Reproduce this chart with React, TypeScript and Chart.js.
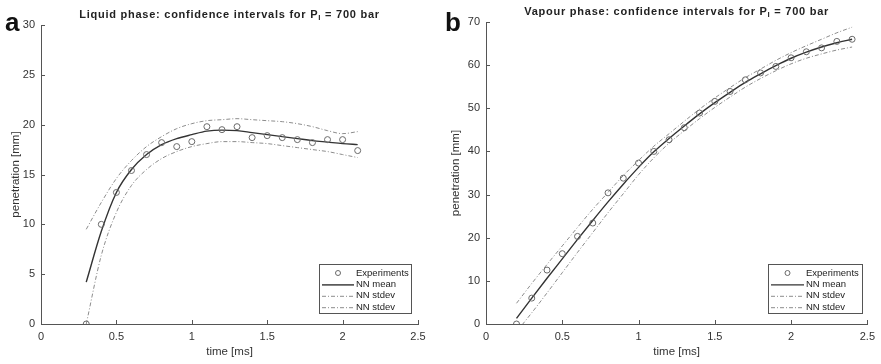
import React, { useEffect, useRef } from "react";
import { Chart, registerables } from "chart.js";

Chart.register(...registerables);

const FONT = '"Liberation Sans", Arial, Helvetica, sans-serif';

// ---- Liquid phase (panel a) ----
const liquidTimes = [0.3, 0.4, 0.5, 0.6, 0.7, 0.8, 0.9, 1.0, 1.1, 1.2, 1.3, 1.4, 1.5, 1.6, 1.7, 1.8, 1.9, 2.0, 2.1];
const liquidExperiments = [0, 10.0, 13.2, 15.4, 17.0, 18.2, 17.8, 18.3, 19.8, 19.5, 19.8, 18.7, 18.9, 18.7, 18.5, 18.2, 18.5, 18.5, 17.4];
const liquidMean = [4.2, 9.3, 13.2, 15.5, 17.0, 18.0, 18.6, 19.0, 19.35, 19.45, 19.4, 19.2, 19.0, 18.8, 18.6, 18.4, 18.25, 18.1, 18.0];
const liquidUpper = [9.5, 12.2, 14.6, 16.4, 17.8, 18.8, 19.6, 20.1, 20.4, 20.5, 20.6, 20.5, 20.4, 20.3, 20.1, 19.8, 19.4, 19.1, 19.3];
const liquidLower = [0, 6.9, 11.2, 13.9, 15.5, 16.6, 17.3, 17.8, 18.1, 18.3, 18.3, 18.2, 18.1, 17.9, 17.7, 17.5, 17.3, 17.0, 16.7];

// ---- Vapour phase (panel b) ----
const vapourTimes = [0.2, 0.3, 0.4, 0.5, 0.6, 0.7, 0.8, 0.9, 1.0, 1.1, 1.2, 1.3, 1.4, 1.5, 1.6, 1.7, 1.8, 1.9, 2.0, 2.1, 2.2, 2.3, 2.4];
const vapourExperiments = [0, 6.0, 12.5, 16.3, 20.3, 23.4, 30.4, 33.8, 37.3, 40.0, 42.7, 45.5, 48.9, 51.6, 53.9, 56.6, 58.2, 59.7, 61.7, 63.1, 64.0, 65.5, 66.0];
const vapourMean = [1.3, 6.0, 10.6, 15.1, 19.6, 24.0, 28.3, 32.4, 36.3, 39.9, 43.0, 45.9, 48.7, 51.3, 53.7, 56.0, 58.0, 59.9, 61.6, 63.0, 64.2, 65.2, 66.0];
const vapourUpper = [4.8, 9.4, 13.8, 18.1, 22.4, 26.6, 30.5, 34.4, 37.9, 41.2, 44.1, 47.0, 49.8, 52.4, 54.8, 57.1, 59.1, 61.1, 62.9, 64.5, 66.0, 67.5, 68.8];
const vapourLower = [-1.8, 2.6, 7.2, 11.9, 16.6, 21.2, 25.8, 30.2, 34.6, 38.5, 41.9, 44.8, 47.6, 50.2, 52.6, 54.9, 56.9, 58.7, 60.3, 61.6, 62.6, 63.5, 64.2];

const xTickStep = 0.5;
const xMax = 2.5;
const seriesLabels = ["Experiments", "NN mean", "NN stdev", "NN stdev"];
const xTitle = "time [ms]";
const yTitle = "penetration [mm]";

type PanelCfg = {
  letter: string;
  titlePre: string;
  titleSub: string;
  titlePost: string;
  times: number[];
  exp: number[];
  mean: number[];
  upper: number[];
  lower: number[];
  yMax: number;
  yStep: number;
  width: number;
  height: number;
  padRight: number;
  padTop: number;
  yWidth: number;
  titleY: number;
  legendBox: { x: number; y: number; w: number; h: number };
  textOffset: number;
};

const toXY = (xs: number[], ys: number[]) => xs.map((x, i) => ({ x, y: ys[i] }));

const panels: PanelCfg[] = [
  {
    letter: "a",
    titlePre: "Liquid phase: confidence intervals for P",
    titleSub: "l",
    titlePost: " = 700 bar",
    times: liquidTimes,
    exp: liquidExperiments,
    mean: liquidMean,
    upper: liquidUpper,
    lower: liquidLower,
    yMax: 30,
    yStep: 5,
    width: 440,
    height: 364,
    padRight: 22,
    padTop: 25,
    yWidth: 41,
    titleY: 15,
    legendBox: { x: 319, y: 264, w: 92, h: 49 },
    textOffset: 37,
  },
  {
    letter: "b",
    titlePre: "Vapour phase: confidence intervals for P",
    titleSub: "l",
    titlePost: " = 700 bar",
    times: vapourTimes,
    exp: vapourExperiments,
    mean: vapourMean,
    upper: vapourUpper,
    lower: vapourLower,
    yMax: 70,
    yStep: 10,
    width: 441,
    height: 364,
    padRight: 11,
    padTop: 22,
    yWidth: 46,
    titleY: 12,
    legendBox: { x: 328, y: 264, w: 94, h: 49 },
    textOffset: 38,
  },
];

function makeDecorPlugin(cfg: PanelCfg) {
  return {
    id: "decor" + cfg.letter,
    afterDraw(chart: any) {
      const ctx = chart.ctx as CanvasRenderingContext2D;
      const area = chart.chartArea;
      const xs = chart.scales.x;
      const ys = chart.scales.y;
      ctx.save();
      // inward ticks
      ctx.strokeStyle = "#555";
      ctx.lineWidth = 1;
      ctx.beginPath();
      xs.ticks.forEach((t: any) => {
        const px = Math.round(xs.getPixelForValue(t.value)) + 0.5;
        ctx.moveTo(px, area.bottom);
        ctx.lineTo(px, area.bottom - 4);
      });
      ys.ticks.forEach((t: any) => {
        const py = Math.round(ys.getPixelForValue(t.value)) + 0.5;
        ctx.moveTo(area.left, py);
        ctx.lineTo(area.left + 4, py);
      });
      ctx.stroke();

      // panel letter
      ctx.fillStyle = "#111";
      ctx.font = `bold 26px ${FONT}`;
      ctx.textAlign = "left";
      ctx.textBaseline = "alphabetic";
      ctx.fillText(cfg.letter, 5, 31);

      // title with subscript
      const cx = (area.left + area.right) / 2;
      const mainFont = `bold 11px ${FONT}`;
      const subFont = `bold 8px ${FONT}`;
      (ctx as any).letterSpacing = "0.75px";
      ctx.font = mainFont;
      const w1 = ctx.measureText(cfg.titlePre).width;
      const w3 = ctx.measureText(cfg.titlePost).width;
      ctx.font = subFont;
      const w2 = ctx.measureText(cfg.titleSub).width;
      let sx = cx - (w1 + w2 + w3) / 2;
      ctx.fillStyle = "#222";
      ctx.textBaseline = "middle";
      ctx.font = mainFont;
      ctx.fillText(cfg.titlePre, sx, cfg.titleY);
      sx += w1;
      ctx.font = subFont;
      ctx.fillText(cfg.titleSub, sx, cfg.titleY + 3);
      sx += w2;
      ctx.font = mainFont;
      ctx.fillText(cfg.titlePost, sx, cfg.titleY);
      (ctx as any).letterSpacing = "0px";

      // axis titles
      ctx.fillStyle = "#333";
      ctx.font = `11.5px ${FONT}`;
      ctx.textAlign = "center";
      ctx.textBaseline = "middle";
      ctx.fillText(xTitle, cx, 352);
      ctx.save();
      ctx.translate(16, (area.top + area.bottom) / 2);
      ctx.rotate(-Math.PI / 2);
      ctx.fillText(yTitle, 0, 0);
      ctx.restore();

      // legend
      const b = cfg.legendBox;
      ctx.fillStyle = "#fff";
      ctx.fillRect(b.x, b.y, b.w, b.h);
      ctx.strokeStyle = "#555";
      ctx.lineWidth = 1;
      ctx.setLineDash([]);
      ctx.strokeRect(b.x + 0.5, b.y + 0.5, b.w, b.h);
      const rowH = 11.4;
      chart.data.datasets.forEach((ds: any, i: number) => {
        const ry = b.y + 9 + i * rowH;
        const x0 = b.x + 3;
        const x1 = b.x + cfg.textOffset - 2;
        if (ds.showLine === false) {
          ctx.beginPath();
          ctx.setLineDash([]);
          ctx.strokeStyle = ds.pointBorderColor;
          ctx.lineWidth = 1;
          ctx.arc((x0 + x1) / 2, ry, 2.5, 0, Math.PI * 2);
          ctx.stroke();
        } else {
          ctx.beginPath();
          ctx.setLineDash(ds.borderDash || []);
          ctx.strokeStyle = ds.borderColor;
          ctx.lineWidth = ds.borderWidth;
          ctx.moveTo(x0, ry + 0.5);
          ctx.lineTo(x1, ry + 0.5);
          ctx.stroke();
          ctx.setLineDash([]);
        }
        ctx.fillStyle = "#222";
        ctx.font = `9.5px ${FONT}`;
        ctx.textAlign = "left";
        ctx.textBaseline = "middle";
        ctx.fillText(ds.label, b.x + cfg.textOffset, ry);
      });
      ctx.restore();
    },
  };
}

function Panel({ cfg }: { cfg: PanelCfg }) {
  const ref = useRef<HTMLCanvasElement | null>(null);
  useEffect(() => {
    const canvas = ref.current;
    if (!canvas) return;
    const tickFont = { family: FONT, size: 11 };
    const fmt = (v: any) => String(Number(v));
    const chart = new Chart(canvas, {
      type: "line",
      data: {
        datasets: [
          {
            label: seriesLabels[0],
            data: toXY(cfg.times, cfg.exp),
            showLine: false,
            pointStyle: "circle",
            pointRadius: 3,
            pointBorderWidth: 1,
            pointBorderColor: "#6a6a6a",
            pointBackgroundColor: "rgba(0,0,0,0)",
            borderColor: "#6a6a6a",
            backgroundColor: "rgba(0,0,0,0)",
          },
          {
            label: seriesLabels[1],
            data: toXY(cfg.times, cfg.mean),
            borderColor: "#333",
            borderWidth: 1.4,
            pointRadius: 0,
            cubicInterpolationMode: "monotone",
            fill: false,
          },
          {
            label: seriesLabels[2],
            data: toXY(cfg.times, cfg.upper),
            borderColor: "#8c8c8c",
            borderWidth: 1,
            borderDash: [4, 2, 1, 2],
            pointRadius: 0,
            cubicInterpolationMode: "monotone",
            fill: false,
          },
          {
            label: seriesLabels[3],
            data: toXY(cfg.times, cfg.lower),
            borderColor: "#8c8c8c",
            borderWidth: 1,
            borderDash: [4, 2, 1, 2],
            pointRadius: 0,
            cubicInterpolationMode: "monotone",
            fill: false,
          },
        ],
      } as any,
      options: {
        animation: false,
        responsive: false,
        maintainAspectRatio: false,
        devicePixelRatio: 1,
        layout: { padding: { left: 0, right: cfg.padRight, top: cfg.padTop, bottom: 0 } },
        plugins: {
          legend: { display: false },
          title: { display: false },
          tooltip: { enabled: false },
        },
        scales: {
          x: {
            type: "linear",
            min: 0,
            max: xMax,
            ticks: { stepSize: xTickStep, padding: 6, color: "#333", font: tickFont, callback: fmt },
            grid: { drawOnChartArea: false, drawTicks: false },
            border: { color: "#555", width: 1 },
            afterFit: (s: any) => {
              s.height = 40;
            },
          },
          y: {
            type: "linear",
            min: 0,
            max: cfg.yMax,
            ticks: { stepSize: cfg.yStep, padding: 6, color: "#333", font: tickFont, callback: fmt },
            grid: { drawOnChartArea: false, drawTicks: false },
            border: { color: "#555", width: 1 },
            afterFit: (s: any) => {
              s.width = cfg.yWidth;
            },
          },
        },
      } as any,
      plugins: [makeDecorPlugin(cfg)],
    });
    return () => chart.destroy();
  }, [cfg]);
  return (
    <canvas
      ref={ref}
      width={cfg.width}
      height={cfg.height}
      style={{ display: "block", width: cfg.width, height: cfg.height }}
    />
  );
}

export default function App() {
  return (
    <div
      style={{
        position: "fixed",
        left: 0,
        top: 0,
        width: 881,
        height: 364,
        background: "#fff",
        display: "flex",
        flexDirection: "row",
      }}
    >
      <Panel cfg={panels[0]} />
      <Panel cfg={panels[1]} />
    </div>
  );
}
